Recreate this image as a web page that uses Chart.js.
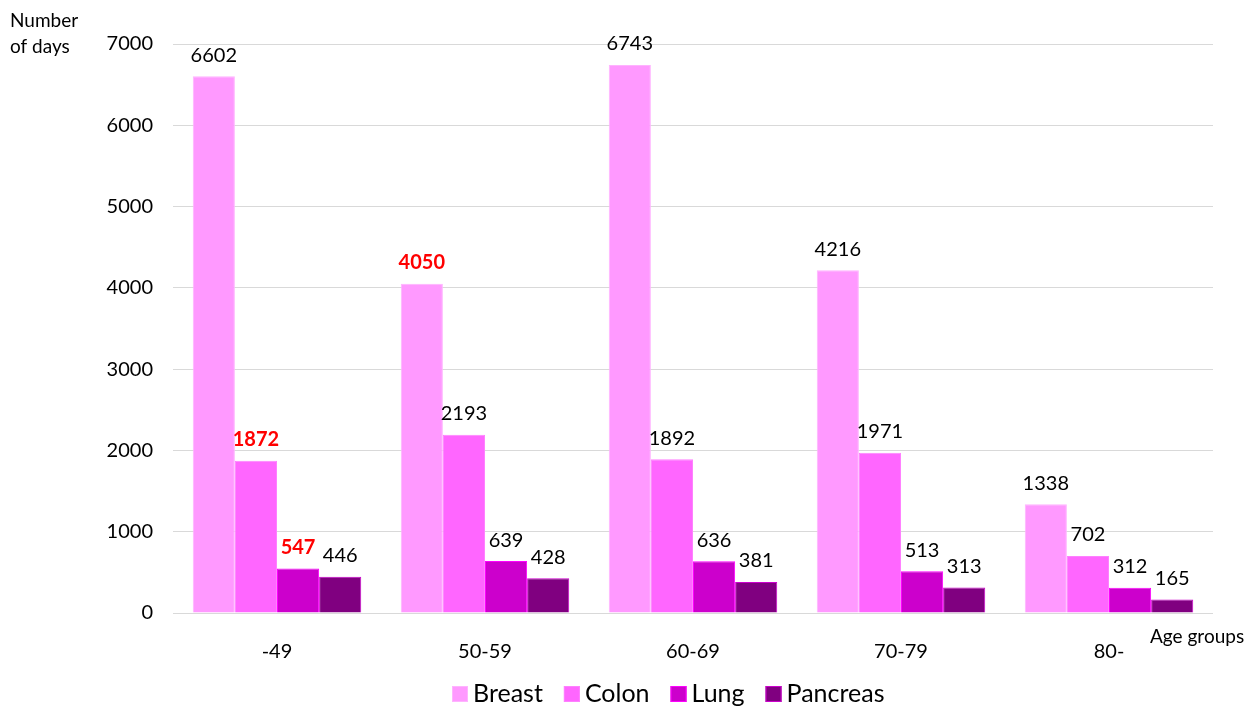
<!DOCTYPE html>
<html>
<head>
<meta charset="utf-8">
<title>Number of days by age group</title>
<script src="https://cdn.jsdelivr.net/npm/chart.js@4/dist/chart.umd.min.js"></script>
<style>
    html, body { margin: 0; padding: 0; background: #fff; }
    #wrap { width: 1250px; height: 707px; position: relative; }
</style>
</head>
<body>
<div id="wrap"><canvas id="daysChart"></canvas></div>
<script>
// age groups on the x axis
const ageGroups = ['-49', '50-59', '60-69', '70-79', '80-'];

// number of days per cancer type
const breast = [6602, 4050, 6743, 4216, 1338];
const colon = [1872, 2193, 1892, 1971, 702];
const lung = [547, 639, 636, 513, 312];
const pancreas = [446, 428, 381, 313, 165];

// labels printed in red bold, by series then age group index
const breastRed = [1];
const colonRed = [0];
const lungRed = [0];
const pancreasRed = [];

const yTicks = [0, 1000, 2000, 3000, 4000, 5000, 6000, 7000];

const FONT = 'Lato, "Open Sans", sans-serif';

// value labels above every bar
const valueLabels = {
    id: 'valueLabels',
    afterDatasetsDraw(chart) {
        const ctx = chart.ctx;
        ctx.save();
        ctx.textAlign = 'center';
        ctx.textBaseline = 'middle';
        chart.data.datasets.forEach((ds, i) => {
            const meta = chart.getDatasetMeta(i);
            meta.data.forEach((bar, j) => {
                const red = ds.redLabels.includes(j);
                ctx.font = (red ? 'bold ' : '') + '20px ' + FONT;
                ctx.fillStyle = red ? '#ff0000' : '#000000';
                ctx.fillText(ds.data[j], bar.x, bar.y - 21);
            });
        });
        ctx.restore();
    }
};

// axis titles placed at the corners, plus a compact legend row
const extras = {
    id: 'extras',
    afterDraw(chart) {
        const ctx = chart.ctx;
        ctx.save();
        ctx.fillStyle = '#000';
        ctx.font = '19px ' + FONT;
        ctx.textAlign = 'left';
        ctx.textBaseline = 'middle';
        ctx.fillText('Number', 10, 21);
        ctx.fillText('of days', 10, 47);
        ctx.fillText('Age groups', 1150, 637);

        // legend: square swatch, small gap, name
        ctx.font = '25px ' + FONT;
        let x = 452;
        const y = 694;
        chart.data.datasets.forEach(ds => {
            ctx.fillStyle = ds.backgroundColor;
            ctx.strokeStyle = ds.borderColor;
            ctx.lineWidth = 1;
            ctx.fillRect(x, y - 8, 16, 16);
            ctx.strokeRect(x + 0.5, y - 7.5, 15, 15);
            ctx.fillStyle = '#000';
            ctx.fillText(ds.label, x + 21, y);
            x += 21 + ctx.measureText(ds.label).width + 21;
        });
        ctx.restore();
    }
};

const ctx = document.getElementById('daysChart').getContext('2d');
const chart = new Chart(ctx, {
    type: 'bar',
    data: {
        labels: ageGroups,
        datasets: [
            { label: 'Breast', data: breast, redLabels: breastRed, backgroundColor: '#ff99ff', borderColor: '#ffb3ff' },
            { label: 'Colon', data: colon, redLabels: colonRed, backgroundColor: '#ff66ff', borderColor: '#ff80ff' },
            { label: 'Lung', data: lung, redLabels: lungRed, backgroundColor: '#cc00cc', borderColor: '#ff00ff' },
            { label: 'Pancreas', data: pancreas, redLabels: pancreasRed, backgroundColor: '#800080', borderColor: '#cc00cc' }
        ]
    },
    options: {
        responsive: true,
        maintainAspectRatio: false,
        animation: false,
        datasets: {
            bar: {
                categoryPercentage: 0.81,
                barPercentage: 1.0,
                borderWidth: 1
            }
        },
        layout: {
            padding: { top: 44, right: 37, bottom: 0, left: 0 }
        },
        plugins: {
            tooltip: { enabled: false },
            legend: { display: false }
        },
        scales: {
            x: {
                grid: { display: false },
                border: { display: false },
                ticks: {
                    font: { family: FONT, size: 20 },
                    color: '#000',
                    padding: 19
                },
                afterFit(scale) { scale.height = 94; }
            },
            y: {
                min: 0,
                max: 7000,
                afterBuildTicks(scale) {
                    scale.ticks = yTicks.map(v => ({ value: v }));
                },
                grid: { color: '#d9d9d9', lineWidth: 1, drawTicks: false },
                border: { display: false },
                ticks: {
                    font: { family: FONT, size: 20 },
                    color: '#000',
                    padding: 20,
                    callback: v => String(v)
                },
                afterFit(scale) { scale.width = 173; }
            }
        }
    },
    plugins: [valueLabels, extras]
});
</script>
</body>
</html>
